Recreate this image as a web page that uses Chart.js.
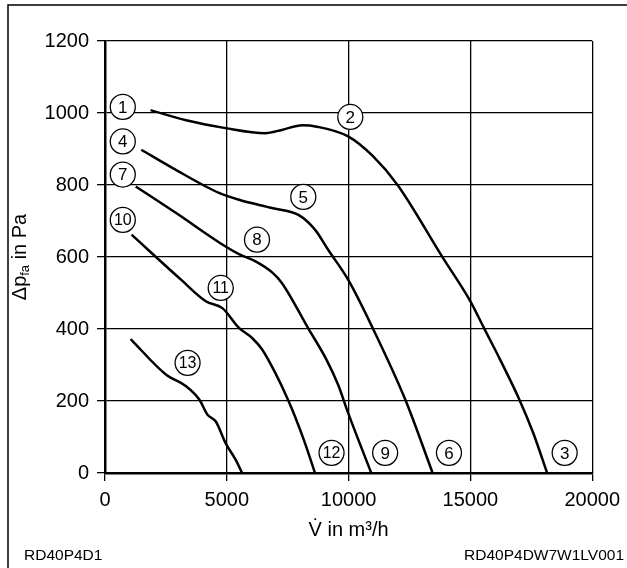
<!DOCTYPE html>
<html>
<head>
<meta charset="utf-8">
<script src="https://cdn.jsdelivr.net/npm/chart.js@4.4.1/dist/chart.umd.min.js"></script>
<style>
  html, body { margin: 0; padding: 0; background: #fff; }
  #fanChart { display: block; }
</style>
</head>
<body>
<canvas id="fanChart" width="627" height="568"></canvas>
<script>
// Curve 1-2-3 (airflow in m3/h, pressure in Pa)
const curveAX = [1870, 3330, 4950, 6580, 7260, 8100, 8700, 9980, 11000, 12010, 13840, 15000, 15570, 16220, 17030, 17580, 18150];
const curveAY = [1008, 980, 958, 944, 953, 966, 962, 935, 880, 800, 601, 477, 401, 315, 201, 111, 0];
// Curve 4-5-6
const curveBX = [1490, 2780, 4680, 5500, 6850, 7940, 8620, 9160, 9980, 11000, 12350, 13450];
const curveBY = [898, 847, 778, 759, 736, 717, 676, 620, 537, 401, 200, 0];
// Curve 7-8-9
const curveCX = [1260, 2920, 4950, 5500, 6180, 6850, 7260, 8350, 9090, 9570, 9980, 10930];
const curveCY = [796, 722, 629, 608, 588, 558, 528, 401, 315, 245, 167, 0];
// Curve 10-11-12
const curveDX = [1090, 3120, 4140, 4820, 5500, 6040, 6450, 6990, 7530, 7800, 8210, 8620];
const curveDY = [662, 537, 477, 458, 403, 375, 343, 278, 201, 157, 83, 0];
// Curve 13
const curveEX = [1050, 2510, 3330, 3870, 4210, 4550, 4950, 5360, 5630];
const curveEY = [372, 273, 241, 204, 162, 143, 83, 37, 0];

// Circled curve numbers
const markNames = ['1', '2', '3', '4', '5', '6', '7', '8', '9', '10', '11', '12', '13'];
const markX = [730, 10070, 18870, 730, 8140, 14120, 730, 6240, 11500, 730, 4750, 9300, 3390];
const markY = [1017, 989, 56, 921, 767, 56, 829, 648, 56, 703, 514, 56, 306];

const xTicks = [0, 5000, 10000, 15000, 20000];
const yTicks = [0, 200, 400, 600, 800, 1000, 1200];

const FONT = 'Liberation Sans, Arial, sans-serif';

function toPoints(xs, ys) {
  return xs.map((x, i) => ({ x: x, y: ys[i] }));
}

function curve(xs, ys) {
  return {
    data: toPoints(xs, ys),
    borderColor: '#000',
    borderWidth: 2.5,
    pointRadius: 0,
    showLine: true,
    fill: false,
    cubicInterpolationMode: 'monotone'
  };
}

// frame, y title, footer texts and circled numbers
const decorations = {
  id: 'decorations',
  beforeDraw(chart) {
    const ctx = chart.ctx;
    ctx.save();
    ctx.fillStyle = '#fff';
    ctx.fillRect(0, 0, chart.width, chart.height);
    ctx.strokeStyle = '#000';
    ctx.lineWidth = 1.5;
    ctx.beginPath();
    ctx.moveTo(8, chart.height);
    ctx.lineTo(8, 5);
    ctx.lineTo(chart.width, 5);
    ctx.stroke();
    ctx.restore();
  },
  afterDatasetsDraw(chart) {
    const ctx = chart.ctx;
    const xs = chart.scales.x, ys = chart.scales.y;
    ctx.save();
    markNames.forEach((name, i) => {
      const px = xs.getPixelForValue(markX[i]);
      const py = ys.getPixelForValue(markY[i]);
      ctx.beginPath();
      ctx.arc(px, py, 12.5, 0, Math.PI * 2);
      ctx.fillStyle = '#fff';
      ctx.fill();
      ctx.lineWidth = 1.3;
      ctx.strokeStyle = '#000';
      ctx.stroke();
      ctx.fillStyle = '#000';
      ctx.font = (name.length > 1 ? '16px ' : '17px ') + FONT;
      ctx.textAlign = 'center';
      ctx.textBaseline = 'middle';
      ctx.fillText(name, px, py + 1);
    });
    ctx.restore();
  },
  afterDraw(chart) {
    const ctx = chart.ctx;
    const area = chart.chartArea;
    ctx.save();
    // y axis title with subscript
    ctx.translate(20, (area.top + area.bottom) / 2);
    ctx.rotate(-Math.PI / 2);
    ctx.fillStyle = '#000';
    ctx.textBaseline = 'middle';
    ctx.textAlign = 'left';
    const big = '20px ' + FONT, small = '13px ' + FONT;
    ctx.font = big;
    const w1 = ctx.measureText('\u0394p').width;
    const w3 = ctx.measureText(' in Pa').width;
    ctx.font = small;
    const w2 = ctx.measureText('fa').width;
    let x0 = -(w1 + w2 + w3) / 2;
    ctx.font = big;
    ctx.fillText('\u0394p', x0, 0);
    ctx.font = small;
    ctx.fillText('fa', x0 + w1, 5);
    ctx.font = big;
    ctx.fillText(' in Pa', x0 + w1 + w2, 0);
    ctx.restore();

    ctx.save();
    ctx.fillStyle = '#000';
    ctx.font = '15.5px ' + FONT;
    ctx.textBaseline = 'alphabetic';
    ctx.textAlign = 'left';
    ctx.fillText('RD40P4D1', 24, 560);
    ctx.textAlign = 'right';
    ctx.fillText('RD40P4DW7W1LV001', 624, 560);
    ctx.restore();
  }
};

const config = {
  type: 'scatter',
  data: {
    datasets: [
      curve(curveAX, curveAY),
      curve(curveBX, curveBY),
      curve(curveCX, curveCY),
      curve(curveDX, curveDY),
      curve(curveEX, curveEY)
    ]
  },
  options: {
    responsive: false,
    animation: false,
    layout: { padding: { top: 41, right: 31, left: 0, bottom: 0 } },
    plugins: {
      legend: { display: false },
      tooltip: { enabled: false }
    },
    scales: {
      x: {
        type: 'linear',
        min: 0,
        max: 20000,
        afterBuildTicks: (scale) => { scale.ticks = xTicks.map(v => ({ value: v })); },
        afterFit: (scale) => { scale.height = 95; },
        ticks: {
          color: '#000',
          font: { family: FONT, size: 20 },
          padding: 7,
          maxRotation: 0,
          callback: (v) => String(v)
        },
        grid: { color: '#000', lineWidth: 1.3, tickLength: 8, tickColor: '#000' },
        border: { color: '#000', width: 2.5 },
        title: {
          display: true,
          text: 'V\u0307 in m\u00b3/h',
          color: '#000',
          font: { family: FONT, size: 20 },
          padding: { top: 0, bottom: 26 }
        }
      },
      y: {
        type: 'linear',
        min: 0,
        max: 1200,
        afterBuildTicks: (scale) => { scale.ticks = yTicks.map(v => ({ value: v })); },
        afterFit: (scale) => { scale.width = 105; },
        ticks: {
          color: '#000',
          font: { family: FONT, size: 20 },
          padding: 8,
          callback: (v) => String(v)
        },
        grid: { color: '#000', lineWidth: 1.3, tickLength: 8, tickColor: '#000' },
        border: { color: '#000', width: 2.5 }
      }
    }
  },
  plugins: [decorations]
};

const fanChart = new Chart(document.getElementById('fanChart'), config);
</script>
</body>
</html>
